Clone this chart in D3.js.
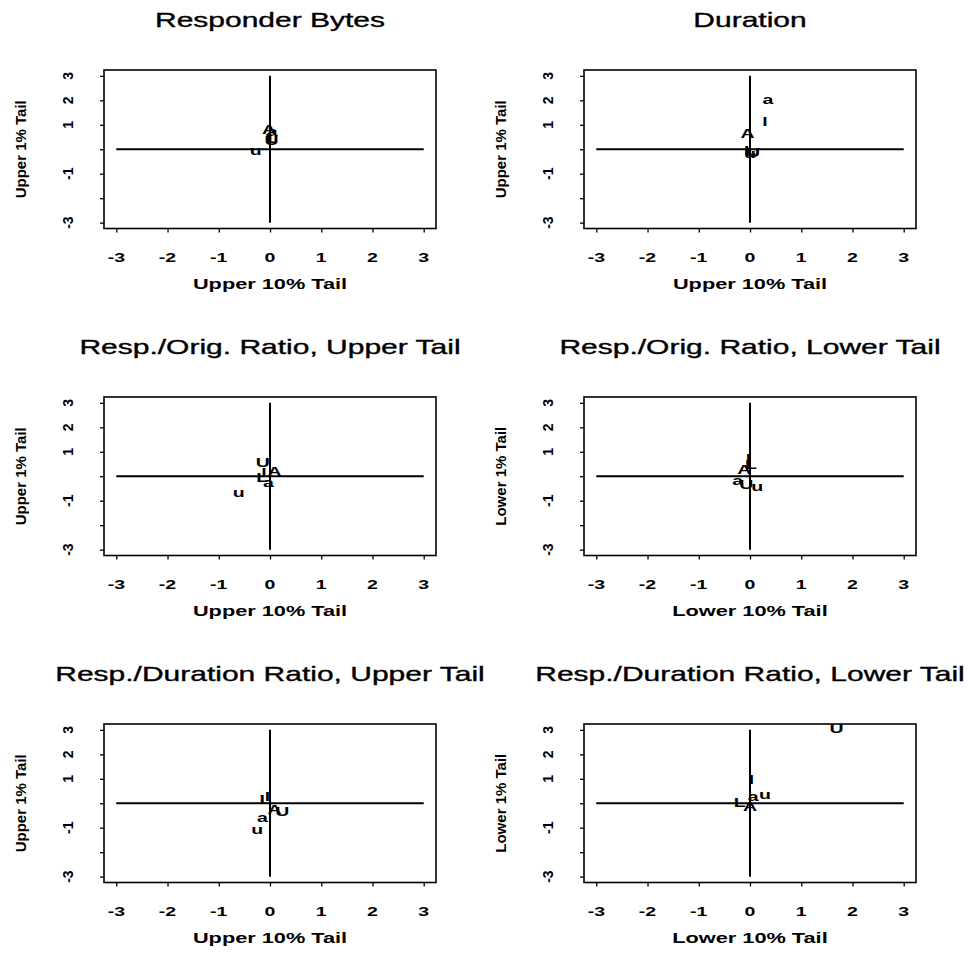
<!DOCTYPE html>
<html>
<head>
<meta charset="utf-8">
<script src="https://cdn.jsdelivr.net/npm/d3@7"></script>
<style>
  body { margin: 0; background: #fff; }
</style>
</head>
<body>
<script>
const width = 974;
const height = 965;

// panel titles and axis labels
const titles = [
  'Responder Bytes', 'Duration',
  'Resp./Orig. Ratio, Upper Tail', 'Resp./Orig. Ratio, Lower Tail',
  'Resp./Duration Ratio, Upper Tail', 'Resp./Duration Ratio, Lower Tail',
];
const xLabels = ['Upper 10% Tail', 'Upper 10% Tail', 'Upper 10% Tail', 'Lower 10% Tail', 'Upper 10% Tail', 'Lower 10% Tail'];
const yLabels = ['Upper 1% Tail', 'Upper 1% Tail', 'Upper 1% Tail', 'Lower 1% Tail', 'Upper 1% Tail', 'Lower 1% Tail'];

// tick values and labels (R drops the overlapping y labels)
const xTicks = [-3, -2, -1, 0, 1, 2, 3];
const xTickLabels = ['-3', '-2', '-1', '0', '1', '2', '3'];
const yTicks = [3, 2, 1, 0, -1, -2, -3];
const yTickLabels = ['3', '2', '1', '', '-1', '', '-3'];

// plotted letters per panel
const letters = [
  ['A', 'a', 'l', 'L', 'U', 'u'],
  ['a', 'l', 'A', 'L', 'U', 'u'],
  ['U', 'A', 'l', 'L', 'a', 'u'],
  ['l', 'L', 'A', 'a', 'U', 'u'],
  ['l', 'L', 'A', 'U', 'a', 'u'],
  ['U', 'l', 'a', 'u', 'L', 'A'],
];
const xValues = [
  [-0.02, 0.04, 0.0, 0.02, 0.03, -0.28],
  [0.35, 0.29, -0.05, 0.0, 0.06, 0.0],
  [-0.14, 0.09, -0.12, -0.15, -0.03, -0.61],
  [-0.03, 0.02, -0.11, -0.24, -0.07, 0.14],
  [-0.05, -0.09, 0.09, 0.24, -0.15, -0.25],
  [1.69, 0.03, 0.06, 0.29, -0.2, 0.0],
];
const yValues = [
  [0.8, 0.75, 0.5, 0.45, 0.35, -0.05],
  [2.03, 1.16, 0.66, -0.05, -0.14, -0.15],
  [0.56, 0.22, 0.15, -0.05, -0.23, -0.67],
  [0.73, 0.5, 0.29, -0.15, -0.33, -0.4],
  [0.3, 0.16, -0.25, -0.31, -0.59, -1.07],
  [3.07, 0.96, 0.28, 0.37, 0.05, -0.11],
];

// the scanned figure is stretched sideways
const SX = 1.5;
const font = "'Liberation Sans', Arial, Helvetica, sans-serif";

const svg = d3.select('body')
  .append('svg')
  .attr('width', width)
  .attr('height', height)
  .attr('viewBox', `0 0 ${width} ${height}`);

svg.append('rect').attr('width', width).attr('height', height).attr('fill', '#fff');

// R style axis: range extended by 4%
const x = d3.scaleLinear().domain([-3.24, 3.24]).range([104, 436]);
const y = d3.scaleLinear().domain([-3.24, 3.24]).range([228.5, 70]);

const colOffset = [0, 480];
const rowOffset = [0, 327, 654];

function hText(g, px, py, str, size, weight, anchor) {
  return g.append('text')
    .attr('transform', `translate(${px},${py}) scale(${SX},1)`)
    .attr('text-anchor', anchor || 'middle')
    .style('font-family', font)
    .style('font-size', size + 'px')
    .style('font-weight', weight)
    .attr('fill', '#000')
    .text(str);
}

titles.forEach((title, i) => {
  const g = svg.append('g')
    .attr('transform', `translate(${colOffset[i % 2]},${rowOffset[Math.floor(i / 2)]})`);

  const cx = (x.range()[0] + x.range()[1]) / 2;

  // title (slightly heavier than regular, like the scan)
  hText(g, cx, 27, title, 20, 'normal')
    .attr('stroke', '#000')
    .attr('stroke-width', 0.35);

  // box
  g.append('rect')
    .attr('x', x.range()[0])
    .attr('y', y.range()[1])
    .attr('width', x.range()[1] - x.range()[0])
    .attr('height', y.range()[0] - y.range()[1])
    .attr('fill', 'none')
    .attr('stroke', '#000')
    .attr('stroke-width', 1.6);

  // x axis
  const xAxis = d3.axisBottom(x)
    .tickValues(xTicks)
    .tickSize(4)
    .tickFormat('');
  g.append('g')
    .attr('transform', `translate(0,${y.range()[0]})`)
    .call(xAxis)
    .call(a => a.select('.domain').remove())
    .call(a => a.selectAll('line').attr('stroke-width', 1.3));

  xTicks.forEach((t, j) => {
    hText(g, x(t), 262, xTickLabels[j], 13, 'bold');
  });

  // y axis
  const yAxis = d3.axisLeft(y)
    .tickValues(yTicks)
    .tickSize(4)
    .tickFormat('');
  g.append('g')
    .attr('transform', `translate(${x.range()[0]},0)`)
    .call(yAxis)
    .call(a => a.select('.domain').remove())
    .call(a => a.selectAll('line').attr('stroke-width', 1.3));

  yTicks.forEach((t, j) => {
    g.append('text')
      .attr('transform', `translate(73,${y(t)}) rotate(-90)`)
      .attr('text-anchor', 'middle')
      .style('font-family', font)
      .style('font-size', '14px')
      .style('font-weight', 'bold')
      .text(yTickLabels[j]);
  });

  // axis titles
  hText(g, cx, 289, xLabels[i], 14.5, 'bold');
  g.append('text')
    .attr('transform', `translate(26,${y(0)}) rotate(-90)`)
    .attr('text-anchor', 'middle')
    .style('font-family', font)
    .style('font-size', '15px')
    .style('font-weight', 'bold')
    .text(yLabels[i]);

  // reference cross at zero
  g.append('line')
    .attr('x1', x(-3)).attr('x2', x(3))
    .attr('y1', y(0)).attr('y2', y(0))
    .attr('stroke', '#000')
    .attr('stroke-width', 2);
  g.append('line')
    .attr('x1', x(0)).attr('x2', x(0))
    .attr('y1', y(-3)).attr('y2', y(3))
    .attr('stroke', '#000')
    .attr('stroke-width', 2);

  // letters
  letters[i].forEach((l, j) => {
    g.append('text')
      .attr('transform', `translate(${x(xValues[i][j])},${y(yValues[i][j])}) scale(${SX},1)`)
      .attr('text-anchor', 'middle')
      .attr('dy', '0.36em')
      .style('font-family', font)
      .style('font-size', '13px')
      .style('font-weight', 'bold')
      .attr('fill', '#000')
      .text(l);
  });
});
</script>
</body>
</html>
